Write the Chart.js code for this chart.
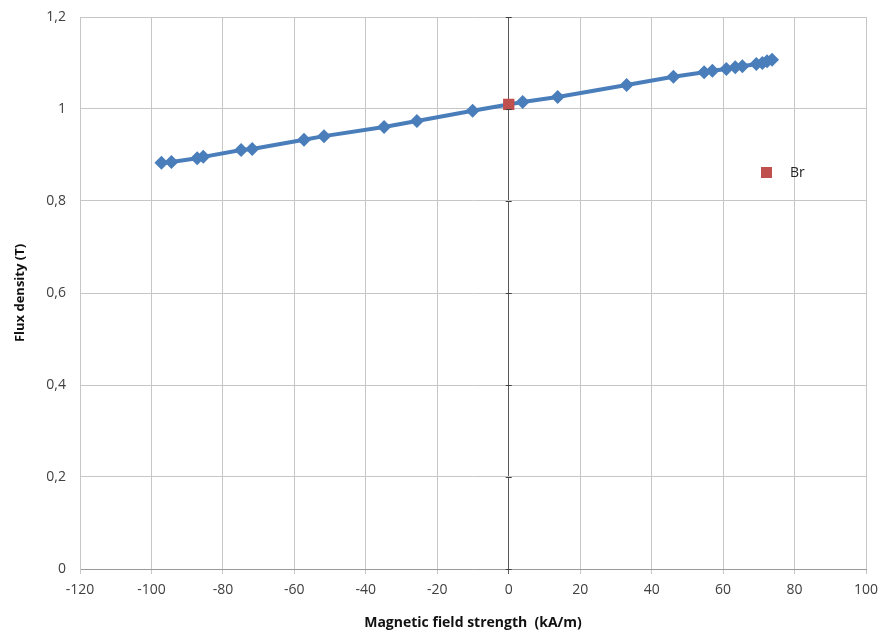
<!DOCTYPE html>
<html lang="en">
<head>
  <meta charset="UTF-8" />
  <title>Flux density vs magnetic field strength</title>
  <script src="https://cdn.jsdelivr.net/npm/chart.js"></script>
  <style>
    body { margin: 0; background: #fff; }
    canvas { display: block; }
  </style>
</head>
<body>
  <canvas id="bhChart" width="882" height="639"></canvas>

  <script>
    // demagnetisation curve readings (kA/m, T)
    const fieldStrength = [-97.2, -94.4, -87.2, -85.5, -74.9, -71.8, -57.3, -51.7, -34.9, -25.7, -10.1,
                           3.9, 13.7, 33.0, 46.1, 54.7, 57.0, 60.9, 63.4, 65.4, 69.3, 71.0, 72.3, 73.7];
    const fluxDensity = [0.883, 0.885, 0.893, 0.896, 0.911, 0.913, 0.933, 0.941, 0.961, 0.974, 0.996,
                         1.015, 1.026, 1.052, 1.070, 1.080, 1.083, 1.087, 1.091, 1.093, 1.098, 1.100, 1.104, 1.107];

    // remanence point
    const brField = [0];
    const brFlux = [1.01];

    const xTicks = [-120, -100, -80, -60, -40, -20, 0, 20, 40, 60, 80, 100];
    const yTicks = [0, 0.2, 0.4, 0.6, 0.8, 1, 1.2];

    const toPoints = (xs, ys) => xs.map((x, i) => ({ x: x, y: ys[i] }));

    const blue = "#4a7ebb";
    const red = "#c0504d";
    const tickFont = { family: "'Open Sans', sans-serif", size: 14 };

    // draws the small "Br" legend inside the plot, like the excel original
    const brLegend = {
      id: "brLegend",
      afterDraw(chart) {
        const ctx = chart.ctx;
        ctx.save();
        ctx.fillStyle = red;
        ctx.fillRect(761, 167, 11, 11);
        ctx.fillStyle = "#222";
        ctx.font = "14px 'Open Sans', sans-serif";
        ctx.textBaseline = "middle";
        ctx.fillText("Br", 790, 173);
        ctx.restore();
      }
    };

    // cross ticks on the zero axis
    const zeroAxisTicks = {
      id: "zeroAxisTicks",
      afterDatasetsDraw(chart) {
        const { ctx, scales: { x, y } } = chart;
        const x0 = x.getPixelForValue(0);
        ctx.save();
        ctx.strokeStyle = "#404040";
        ctx.lineWidth = 1;
        yTicks.forEach(v => {
          const py = Math.round(y.getPixelForValue(v)) + 0.5;
          ctx.beginPath();
          ctx.moveTo(x0 - 3, py);
          ctx.lineTo(x0 + 3, py);
          ctx.stroke();
        });
        ctx.restore();
      }
    };

    new Chart(document.getElementById("bhChart"), {
      type: "scatter",
      data: {
        datasets: [
          {
            label: "Br",
            data: toPoints(brField, brFlux),
            pointStyle: "rect",
            pointRadius: 8,
            backgroundColor: red,
            borderColor: red,
            borderWidth: 0
          },
          {
            label: "B(H)",
            data: toPoints(fieldStrength, fluxDensity),
            showLine: true,
            borderColor: blue,
            backgroundColor: blue,
            borderWidth: 4,
            pointStyle: "rectRot",
            pointRadius: 7,
            pointBorderWidth: 0,
            pointBackgroundColor: blue
          }
        ]
      },
      options: {
        responsive: false,
        animation: false,
        layout: { padding: { top: 17, right: 16, left: 12, bottom: 8 } },
        plugins: {
          legend: { display: false },
          tooltip: { enabled: false }
        },
        scales: {
          x: {
            type: "linear",
            min: -120,
            max: 100,
            afterBuildTicks: scale => { scale.ticks = xTicks.map(v => ({ value: v })); },
            afterFit: scale => {
              scale.height = 62;
              scale.paddingLeft = 0;
              scale.paddingRight = 0;
            },
            grid: {
              color: ctx => ctx.tick && ctx.tick.value === 0 ? "#595959" : "#c6c6c6",
              lineWidth: 1,
              drawTicks: true,
              tickLength: 5
            },
            border: { color: "#9a9a9a" },
            ticks: {
              color: "#404040",
              font: tickFont,
              padding: 8,
              maxRotation: 0
            },
            title: {
              display: true,
              text: "Magnetic field strength  (kA/m)",
              color: "#111",
              font: { family: "'Open Sans', sans-serif", size: 14, weight: "bold" },
              padding: { top: 0, bottom: 0 }
            }
          },
          y: {
            type: "linear",
            min: 0,
            max: 1.2,
            afterBuildTicks: scale => { scale.ticks = yTicks.map(v => ({ value: v })); },
            afterFit: scale => {
              scale.width = 68;
              scale.paddingTop = 0;
              scale.paddingBottom = 0;
            },
            grid: {
              color: "#c6c6c6",
              lineWidth: 1,
              drawTicks: false
            },
            border: { color: "#c6c6c6" },
            ticks: {
              color: "#404040",
              font: tickFont,
              padding: 14,
              callback: v => String(v).replace(".", ",")
            },
            title: {
              display: true,
              text: "Flux density (T)",
              color: "#111",
              font: { family: "'Open Sans', sans-serif", size: 13, weight: "bold" },
              padding: { top: 0, bottom: 0 }
            }
          }
        }
      },
      plugins: [brLegend, zeroAxisTicks]
    });
  </script>
</body>
</html>
